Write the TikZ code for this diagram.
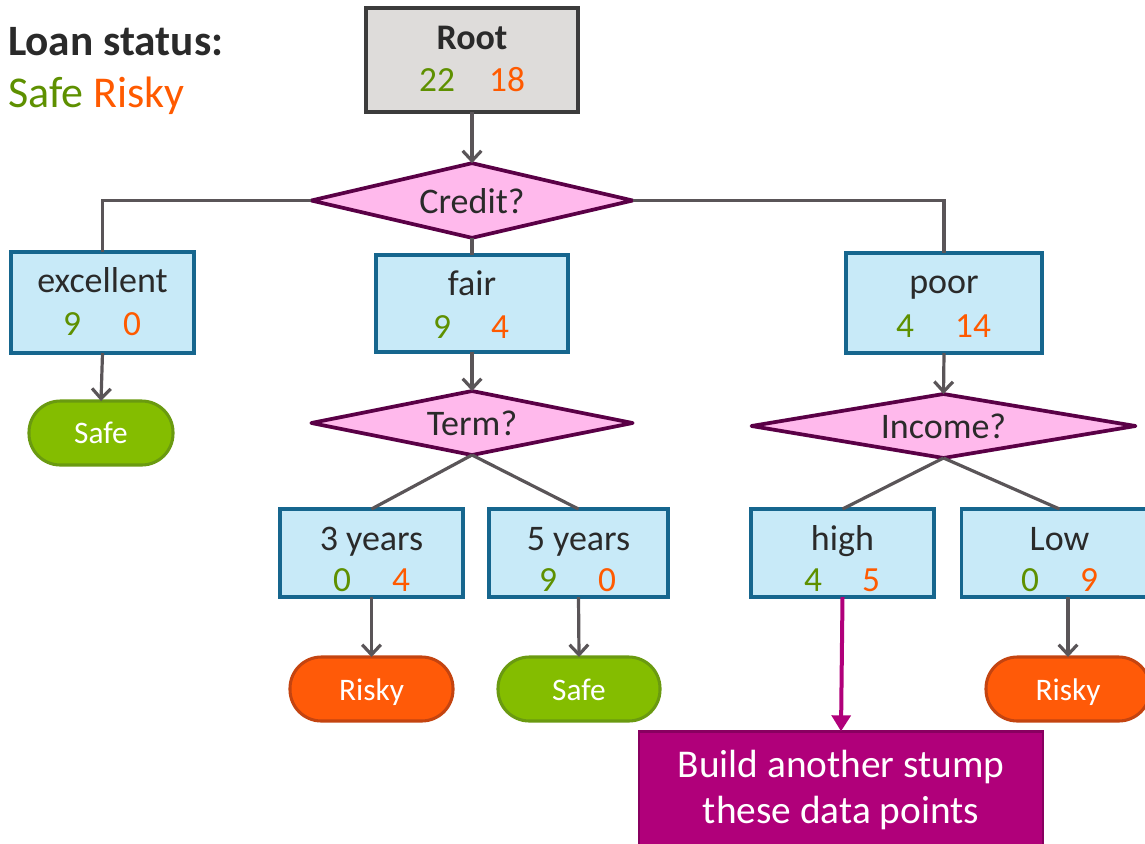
\documentclass[tikz,border=0pt]{standalone}
\usepackage{fontspec}
\setmainfont{Carlito}
\usetikzlibrary{arrows.meta,shapes.geometric}
\definecolor{conncol}{HTML}{5A5558}
\definecolor{boxfill}{HTML}{C8EAF8}
\definecolor{boxedge}{HTML}{16668E}
\definecolor{dfill}{HTML}{FFB9EC}
\definecolor{dedge}{HTML}{5A0046}
\definecolor{gtext}{HTML}{5E9000}
\definecolor{otext}{HTML}{FF5A00}
\definecolor{safefill}{HTML}{84BD00}
\definecolor{safeedge}{HTML}{6A9A10}
\definecolor{riskfill}{HTML}{FF5A08}
\definecolor{riskedge}{HTML}{C44410}
\definecolor{magfill}{HTML}{B0007A}
\definecolor{magedge}{HTML}{880060}
\definecolor{rootfill}{HTML}{DEDCDA}
\definecolor{rootedge}{HTML}{3C3C3C}
\definecolor{txt}{HTML}{2A2A2A}
\begin{document}
\begin{tikzpicture}[x=0.75pt,y=-0.75pt,
  every node/.style={inner sep=0pt, outer sep=0pt},
  conn/.style={draw=conncol, line width=2.4pt},
  arr/.style={conn, -{Straight Barb[length=7.5pt,width=14pt]}},
  attr/.style={rectangle, draw=boxedge, fill=boxfill, line width=2.6pt},
  rootbox/.style={rectangle, draw=rootedge, fill=rootfill, line width=2.4pt},
  question/.style={diamond, draw=dedge, fill=dfill, line width=2.8pt, line join=round},
  safeleaf/.style={rectangle, rounded corners=23.5pt, draw=safeedge, fill=safefill, line width=2.3pt, minimum height=48pt},
  riskleaf/.style={rectangle, rounded corners=23.5pt, draw=riskedge, fill=riskfill, line width=2.3pt, minimum height=48pt},
  lbl/.style={anchor=base, text=txt, font=\fontsize{27}{32}\selectfont},
  gnum/.style={anchor=base, text=gtext, font=\fontsize{26.5}{32}\selectfont},
  onum/.style={anchor=base, text=otext, font=\fontsize{26.5}{32}\selectfont},
  leaftext/.style={anchor=base, text=white, font=\fontsize{23.5}{28}\selectfont},
  buildtext/.style={anchor=base, text=white, font=\fontsize{29.5}{34}\selectfont}
]
\useasboundingbox (0,0) rectangle (1145,843);

% legend
\node[anchor=base west, text=txt, font=\fontsize{32.5}{38}\selectfont\bfseries] (leg1) at (8,55) {Loan status:};
\node[anchor=base west, font=\fontsize{33}{38}\selectfont] (leg2) at (8,107) {\textcolor{gtext}{Safe} \textcolor{otext}{Risky}};

% root
\node[rootbox, minimum width=159pt, minimum height=78pt] (root) at (472,60) {};
\node[lbl, font=\fontsize{27}{32}\selectfont\bfseries] (rootT) at (472,49) {Root};
\node[gnum] (rootA) at (437,91) {22};
\node[onum] (rootB) at (507,91) {18};

% credit
\node[question, minimum width=241pt, minimum height=56pt] (credit) at (472,200.5) {};
\node[lbl] (creditT) at (472,213) {Credit?};

% excellent
\node[attr, minimum width=137.25pt, minimum height=75.75pt] (exc) at (102.5,302.5) {};
\node[lbl] (excT) at (102.5,292) {excellent};
\node[gnum] (excA) at (72,335) {9};
\node[onum] (excB) at (132,335) {0};

% fair
\node[attr, minimum width=144pt, minimum height=72.75pt] (fair) at (472,303.5) {};
\node[lbl] (fairT) at (472,295) {fair};
\node[gnum] (fairA) at (442,338) {9};
\node[onum] (fairB) at (500,338) {4};

% poor
\node[attr, minimum width=147pt, minimum height=75pt] (poor) at (944,303) {};
\node[lbl] (poorT) at (944,293) {poor};
\node[gnum] (poorA) at (905,337) {4};
\node[onum] (poorB) at (973,337) {14};

% safe leaf 1
\node[safeleaf, minimum width=108pt] (safe1) at (101,433) {};
\node[leaftext] (safe1T) at (101,443) {Safe};

% term
\node[question, minimum width=241pt, minimum height=48pt] (term) at (472,423) {};
\node[lbl] (termT) at (472,435) {Term?};

% income
\node[question, minimum width=288pt, minimum height=48pt] (income) at (943.5,426) {};
\node[lbl] (incomeT) at (943.5,438) {Income?};

% 3 years
\node[attr, minimum width=137.25pt, minimum height=66pt] (y3) at (371.5,553) {};
\node[lbl] (y3T) at (371.5,550) {3 years};
\node[gnum] (y3A) at (342,591) {0};
\node[onum] (y3B) at (401,591) {4};

% 5 years
\node[attr, minimum width=134.25pt, minimum height=66pt] (y5) at (578.5,553) {};
\node[lbl] (y5T) at (578.5,550) {5 years};
\node[gnum] (y5A) at (548,591) {9};
\node[onum] (y5B) at (607,591) {0};

% high
\node[attr, minimum width=137.25pt, minimum height=66pt] (high) at (842.5,553) {};
\node[lbl] (highT) at (842.5,550) {high};
\node[gnum] (highA) at (813,591) {4};
\node[onum] (highB) at (871,591) {5};

% low
\node[attr, minimum width=147pt, minimum height=66pt] (low) at (1059.5,553) {};
\node[lbl] (lowT) at (1059.5,550) {Low};
\node[gnum] (lowA) at (1030,591) {0};
\node[onum] (lowB) at (1089,591) {9};

% leaves bottom
\node[riskleaf, minimum width=122.25pt] (risk1) at (371.5,689) {};
\node[leaftext] (risk1T) at (371.5,700) {Risky};
\node[safeleaf, minimum width=121.5pt] (safe2) at (579,689) {};
\node[leaftext] (safe2T) at (579,700) {Safe};
\node[riskleaf, minimum width=123pt] (risk2) at (1068,689) {};
\node[leaftext] (risk2T) at (1068,700) {Risky};

% build box
\node[rectangle, draw=magedge, fill=magfill, line width=2.2pt, minimum width=303pt, minimum height=97pt] (build) at (841,796) {};
\node[buildtext] (buildT1) at (841,777) {Build another stump};
\node[buildtext] (buildT2) at (841,823) {these data points};

% connectors
\draw[arr] (root.south) -- (credit.north);
\draw[conn] (credit.west) -| (exc.north);
\draw[conn] (credit.east) -| (poor.north);
\draw[conn] (credit.south) -- (fair.north);
\draw[arr] (exc.south) -- (safe1.north);
\draw[arr] (fair.south) -- (term.north);
\draw[conn] (term.south) -- (y3.north);
\draw[conn] (term.south) -- (y5.north);
\draw[arr] (y3.south) -- (risk1.north);
\draw[arr] (y5.south) -- (safe2.north);
\draw[arr] (poor.south) -- (income.north);
\draw[conn] (income.south) -- (high.north);
\draw[conn] (income.south) -- (low.north);
\draw[arr] (low.south -| risk2.north) -- (risk2.north);
\draw[draw=magfill, line width=3pt, -{Triangle[length=12pt,width=14pt]}] (high.south) -- (build.north);
\end{tikzpicture}
\end{document}
